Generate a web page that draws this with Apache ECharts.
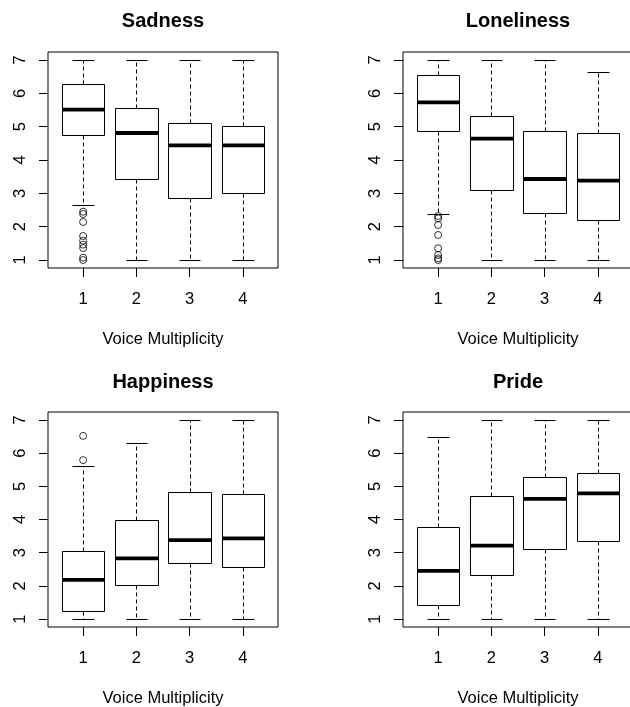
<!DOCTYPE html>
<html>
<head>
<meta charset="utf-8">
<script src="https://cdn.jsdelivr.net/npm/echarts@6/dist/echarts.min.js"></script>
<style>
html,body{margin:0;padding:0;background:#fff;}
#chart{width:630px;height:707px;}
</style>
</head>
<body>
<div id="chart"></div>
<script>
// ---- data ----
const categories = [1, 2, 3, 4];
const yTicks = [1, 2, 3, 4, 5, 6, 7];
const panelTitles = ['Sadness', 'Loneliness', 'Happiness', 'Pride'];
const xAxisTitle = 'Voice Multiplicity';
// each row: [lower whisker, Q1, median, Q3, upper whisker] for voice multiplicity 1..4
const sadnessStats = [[2.65, 4.76, 5.51, 6.29, 7], [1, 3.42, 4.81, 5.56, 7], [1, 2.86, 4.44, 5.12, 7], [1, 3.00, 4.44, 5.01, 7]];
const lonelinessStats = [[2.38, 4.86, 5.73, 6.54, 7], [1, 3.10, 4.64, 5.31, 7], [1, 2.42, 3.43, 4.86, 7], [1, 2.20, 3.38, 4.81, 6.64]];
const happinessStats = [[1, 1.24, 2.18, 3.04, 5.61], [1, 2.02, 2.83, 4.00, 6.31], [1, 2.70, 3.38, 4.84, 7], [1, 2.57, 3.43, 4.76, 7]];
const prideStats = [[1, 1.41, 2.45, 3.78, 6.49], [1, 2.32, 3.21, 4.71, 7], [1, 3.12, 4.62, 5.29, 7], [1, 3.34, 4.79, 5.41, 7]];
// outliers: [group, value]
const sadnessOutliers = [[1, 2.45], [1, 2.38], [1, 2.14], [1, 1.72], [1, 1.58], [1, 1.46], [1, 1.36], [1, 1.07], [1, 1.00]];
const lonelinessOutliers = [[1, 2.32], [1, 2.25], [1, 2.05], [1, 1.75], [1, 1.35], [1, 1.15], [1, 1.05], [1, 1.00]];
const happinessOutliers = [[1, 5.79], [1, 6.52]];
const prideOutliers = [];

const allStats = [sadnessStats, lonelinessStats, happinessStats, prideStats];
const allOutliers = [sadnessOutliers, lonelinessOutliers, happinessOutliers, prideOutliers];

// ---- layout ----
const FONT = 'Liberation Sans, Arial, Helvetica, sans-serif';
const grids = [
  {left: 48, top: 52, width: 230, height: 216},
  {left: 403, top: 52, width: 230, height: 216},
  {left: 48, top: 412, width: 230, height: 215},
  {left: 403, top: 412, width: 230, height: 215}
];

function crisp(v) { return Math.round(v) + 0.5; }

function renderBox(params, api) {
  const x = api.value(0);
  const lo = api.value(1), q1 = api.value(2), med = api.value(3), q3 = api.value(4), hi = api.value(5);
  const hw = api.size([0.4, 0])[0];
  const sw = api.size([0.2, 0])[0];
  const cx0 = api.coord([x, lo])[0];
  const cx = crisp(cx0);
  const yLo = crisp(api.coord([x, lo])[1]);
  const yQ1 = crisp(api.coord([x, q1])[1]);
  const yMed = api.coord([x, med])[1];
  const yQ3 = crisp(api.coord([x, q3])[1]);
  const yHi = crisp(api.coord([x, hi])[1]);
  const xl = crisp(cx0 - hw), xr = crisp(cx0 + hw);
  const line = {stroke: '#000', lineWidth: 1};
  const dashed = {stroke: '#000', lineWidth: 1, lineDash: [4, 3]};
  return {
    type: 'group',
    children: [
      {type: 'line', shape: {x1: cx, y1: yQ3, x2: cx, y2: yHi}, style: dashed},
      {type: 'line', shape: {x1: cx, y1: yQ1, x2: cx, y2: yLo}, style: dashed},
      {type: 'line', shape: {x1: crisp(cx0 - sw), y1: yHi, x2: crisp(cx0 + sw), y2: yHi}, style: line},
      {type: 'line', shape: {x1: crisp(cx0 - sw), y1: yLo, x2: crisp(cx0 + sw), y2: yLo}, style: line},
      {type: 'rect', shape: {x: xl, y: yQ3, width: xr - xl, height: yQ1 - yQ3}, style: {stroke: '#000', lineWidth: 1, fill: '#fff'}},
      {type: 'line', shape: {x1: xl, y1: yMed, x2: xr, y2: yMed}, style: {stroke: '#000', lineWidth: 3.8}}
    ]
  };
}

const option = {
  backgroundColor: '#fff',
  animation: false,
  title: grids.map((g, i) => ({
    text: panelTitles[i],
    left: g.left + g.width / 2,
    top: i < 2 ? 11 : 372,
    textAlign: 'center',
    padding: 0,
    textStyle: {fontFamily: FONT, fontSize: 20, fontWeight: 'bold', color: '#000'}
  })),
  grid: grids.map(g => Object.assign({show: true, borderColor: '#000', borderWidth: 1, backgroundColor: 'transparent', containLabel: false, outerBoundsMode: 'none'}, g)),
  xAxis: grids.map((g, i) => ({
    type: 'value',
    gridIndex: i,
    min: 0.34,
    max: 4.66,
    name: xAxisTitle,
    nameLocation: 'middle',
    nameGap: 63,
    nameTextStyle: {fontFamily: FONT, fontSize: 16.5, color: '#000'},
    axisLine: {show: false},
    splitLine: {show: false},
    axisTick: {show: true, length: 9, inside: false, customValues: categories, lineStyle: {color: '#000', width: 1}},
    axisLabel: {show: true, margin: 23, customValues: categories, fontFamily: FONT, fontSize: 16.5, color: '#000', formatter: v => String(v)}
  })),
  yAxis: grids.map((g, i) => ({
    type: 'value',
    gridIndex: i,
    min: 0.76,
    max: 7.24,
    axisLine: {show: false},
    splitLine: {show: false},
    axisTick: {show: true, length: 9, inside: false, customValues: yTicks, lineStyle: {color: '#000', width: 1}},
    axisLabel: {show: true, margin: 19, rotate: 90, customValues: yTicks, fontFamily: FONT, fontSize: 16.5, color: '#000', formatter: v => String(v)}
  })),
  series: []
};

allStats.forEach((stats, i) => {
  option.series.push({
    type: 'custom',
    xAxisIndex: i,
    yAxisIndex: i,
    renderItem: renderBox,
    encode: {x: 0, y: [1, 2, 3, 4, 5]},
    data: stats.map((row, k) => [categories[k]].concat(row)),
    z: 2
  });
  if (allOutliers[i].length) {
    option.series.push({
      type: 'scatter',
      xAxisIndex: i,
      yAxisIndex: i,
      symbol: 'circle',
      symbolSize: 7,
      itemStyle: {color: 'rgba(0,0,0,0)', borderColor: '#000', borderWidth: 1},
      data: allOutliers[i],
      z: 3
    });
  }
});

const chart = echarts.init(document.getElementById('chart'), null, {renderer: 'canvas'});
chart.setOption(option);
</script>
</body>
</html>
